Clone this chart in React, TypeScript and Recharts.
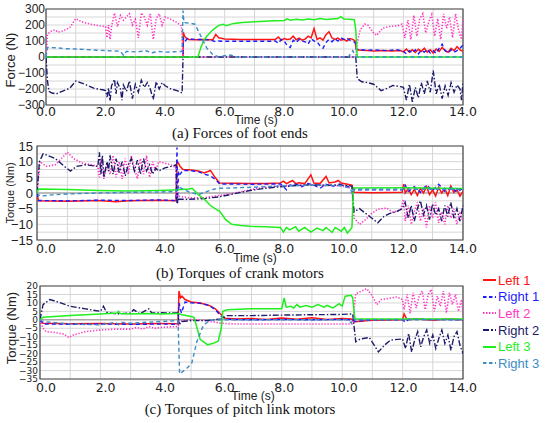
import React from "react";
import {
  LineChart, Line, XAxis, YAxis, CartesianGrid, ReferenceArea, ReferenceLine,
} from "recharts";

type Pt = [number, number];

// ---- axis ticks ----
const TIME_TICKS = [0, 1, 2, 3, 4, 5, 6, 7, 8, 9, 10, 11, 12, 13, 14];
const FORCE_TICKS = [-300, -250, -200, -150, -100, -50, 0, 50, 100, 150, 200, 250, 300];
const CRANK_TICKS = [-15, -12.5, -10, -7.5, -5, -2.5, 0, 2.5, 5, 7.5, 10, 12.5, 15];
const PITCH_TICKS = [-35, -30, -25, -20, -15, -10, -5, 0, 5, 10, 15, 20];

// ---- (a) forces of foot ends, N ----
const forceLeft1: Pt[] = [[0,0],[4.6,0],[4.61,155],[4.65,130],[4.7,120],[4.8,110],[5.0,108],[5.3,110],[5.6,108],[5.7,140],[5.8,120],[6.0,112],[6.5,110],[7.0,110],[7.5,110],[7.7,110],[7.8,125],[7.9,105],[8.0,115],[8.1,110],[8.2,112],[8.3,130],[8.4,108],[8.5,118],[8.6,105],[8.7,112],[8.8,130],[8.9,120],[9.0,178],[9.1,110],[9.2,120],[9.3,105],[9.4,140],[9.5,158],[9.6,120],[9.7,110],[9.8,118],[9.9,105],[10.0,110],[10.1,100],[10.2,115],[10.3,110],[10.38,100],[10.42,45],[10.6,42],[10.8,40],[11.0,38],[11.3,40],[11.6,38],[11.9,40],[12.0,32],[12.1,50],[12.2,30],[12.3,45],[12.4,28],[12.5,48],[12.6,35],[12.7,55],[12.8,30],[12.9,45],[13.0,25],[13.1,50],[13.2,35],[13.3,60],[13.4,40],[13.5,30],[13.6,55],[13.7,40],[13.8,65],[13.9,45],[14.0,35]];
const forceRight1: Pt[] = [[0,0],[4.6,0],[4.61,120],[4.65,95],[4.75,115],[5.0,110],[5.5,108],[5.7,95],[5.8,100],[6.0,98],[7.0,98],[7.5,98],[7.7,100],[7.8,85],[7.9,110],[8.0,100],[8.1,70],[8.2,60],[8.3,105],[8.4,90],[8.5,110],[8.6,100],[8.7,95],[8.8,80],[8.9,115],[9.0,100],[9.1,95],[9.2,70],[9.3,55],[9.4,90],[9.5,110],[9.6,95],[9.7,115],[9.8,100],[9.9,120],[10.0,110],[10.1,118],[10.2,105],[10.3,100],[10.38,90],[10.42,48],[10.6,45],[10.8,42],[11.0,45],[11.4,40],[11.8,45],[12.0,35],[12.1,20],[12.2,40],[12.3,25],[12.4,45],[12.5,20],[12.6,42],[12.7,30],[12.8,48],[12.9,25],[13.0,40],[13.1,22],[13.2,55],[13.3,80],[13.4,40],[13.5,25],[13.6,45],[13.7,30],[13.8,40],[13.9,55],[14.0,75]];
const forceLeft2: Pt[] = [[0,0],[0.05,140],[0.15,160],[0.3,170],[0.4,155],[0.6,165],[0.8,185],[1.0,240],[1.2,220],[1.5,205],[1.8,195],[2.0,190],[2.05,120],[2.1,200],[2.15,110],[2.2,190],[2.3,275],[2.4,190],[2.5,260],[2.6,230],[2.7,250],[2.8,270],[2.9,200],[3.0,235],[3.1,120],[3.2,275],[3.3,250],[3.4,200],[3.5,270],[3.6,110],[3.7,240],[3.8,270],[3.9,200],[4.0,250],[4.2,235],[4.4,215],[4.55,195],[4.6,0],[10.4,0],[10.45,90],[10.55,170],[10.7,205],[10.8,200],[11.0,150],[11.1,135],[11.3,180],[11.5,190],[11.8,195],[11.95,205],[12.05,120],[12.15,230],[12.25,110],[12.35,260],[12.45,130],[12.55,240],[12.65,270],[12.75,150],[12.85,220],[12.95,265],[13.05,130],[13.15,240],[13.25,110],[13.35,270],[13.45,180],[13.55,250],[13.65,120],[13.75,270],[13.85,170],[13.95,110],[14.0,240]];
const forceRight2: Pt[] = [[0,0],[0.05,-150],[0.1,-215],[0.2,-225],[0.35,-230],[0.6,-210],[0.8,-195],[1.0,-150],[1.3,-170],[1.6,-195],[1.9,-205],[2.0,-210],[2.05,-250],[2.1,-195],[2.15,-275],[2.2,-180],[2.3,-140],[2.35,-230],[2.4,-160],[2.5,-200],[2.55,-270],[2.6,-175],[2.7,-215],[2.8,-150],[2.9,-260],[3.0,-170],[3.1,-220],[3.2,-145],[3.3,-190],[3.4,-160],[3.5,-200],[3.6,-265],[3.7,-155],[3.8,-200],[3.9,-160],[4.0,-180],[4.2,-200],[4.4,-210],[4.57,-225],[4.6,0],[10.4,0],[10.45,-135],[10.6,-155],[10.8,-160],[11.0,-170],[11.25,-210],[11.4,-200],[11.65,-178],[11.9,-185],[12.0,-190],[12.1,-270],[12.2,-170],[12.3,-280],[12.4,-190],[12.5,-255],[12.6,-160],[12.7,-230],[12.8,-150],[12.9,-220],[13.0,-85],[13.1,-230],[13.2,-170],[13.3,-260],[13.4,-180],[13.5,-240],[13.6,-160],[13.7,-220],[13.8,-175],[13.9,-200],[13.95,-270],[14.0,-160]];
const forceLeft3: Pt[] = [[0,0],[5.1,0],[5.2,60],[5.3,105],[5.4,130],[5.6,170],[5.8,198],[5.95,205],[6.05,195],[6.3,210],[6.6,215],[7.0,220],[7.5,225],[8.0,228],[8.1,238],[8.2,230],[8.4,236],[8.6,232],[8.8,238],[9.0,233],[9.2,240],[9.4,235],[9.6,238],[9.8,240],[9.9,252],[10.0,238],[10.2,236],[10.35,233],[10.4,170],[10.45,0],[14,0]];
const forceRight3: Pt[] = [[0,0],[0.05,60],[0.3,58],[0.7,52],[1.0,50],[1.5,45],[2.0,40],[2.5,36],[2.6,10],[2.7,35],[3.0,32],[3.4,38],[3.5,25],[3.8,35],[4.0,30],[4.3,33],[4.57,35],[4.6,290],[4.63,215],[4.8,212],[5.0,205],[5.2,130],[5.4,55],[5.6,15],[5.8,0],[6.0,8],[6.2,12],[6.4,0],[10.15,0],[10.3,40],[10.4,0],[14,0]];

// ---- (b) torques of crank motors, Nm ----
const crankLeft1: Pt[] = [[0,0],[0.05,-2.5],[1.0,-2.6],[2.0,-2.4],[2.6,-2.8],[3.0,-2.5],[4.0,-2.3],[4.57,-2.5],[4.6,10],[4.65,9.5],[4.7,8.5],[4.8,7.5],[5.0,7.4],[5.3,7.0],[5.5,6.4],[5.7,7.2],[5.85,5],[6.0,3.2],[6.5,3.1],[7.0,3.0],[7.5,3.0],[8.0,3.2],[8.1,3.8],[8.2,3.0],[8.3,3.5],[8.4,4.0],[8.5,3.0],[8.6,3.3],[8.8,3.0],[9.0,5.8],[9.1,3.2],[9.3,3.0],[9.5,5.3],[9.6,3.2],[9.8,3.5],[9.9,4.0],[10.0,3.2],[10.2,2.8],[10.35,2.5],[10.42,0.2],[11,0.1],[12.0,0.2],[12.05,2.8],[12.1,0],[12.2,1.5],[12.3,-0.5],[12.4,1.2],[12.5,-0.8],[12.6,1.5],[12.7,0],[12.8,2.0],[12.9,-0.5],[13.0,1.0],[13.1,-1.0],[13.2,1.8],[13.3,0],[13.4,1.5],[13.5,-0.8],[13.6,2.2],[13.7,0.2],[13.8,1.2],[13.9,-1.0],[14.0,0.5]];
const crankRight1: Pt[] = [[0,0],[0.05,-2.4],[1.0,-2.5],[2.0,-2.3],[3.0,-2.4],[4.0,-2.2],[4.57,-2.4],[4.6,14.5],[4.62,-3],[4.65,7],[4.7,6],[4.8,7.2],[5.0,7.2],[5.3,6.8],[5.5,6.0],[5.7,5.5],[5.9,4],[6.0,2.9],[7.0,2.8],[8.0,2.9],[8.1,2.0],[8.2,1.0],[8.3,2.5],[8.5,2.8],[8.7,2.0],[8.9,3.0],[9.1,2.5],[9.3,1.5],[9.5,2.8],[9.7,2.0],[9.9,3.0],[10.1,2.2],[10.3,2.0],[10.42,1.0],[11,1.0],[12.0,1.0],[12.1,2.5],[12.2,0.5],[12.4,2.0],[12.6,0.2],[12.8,2.5],[13.0,0.8],[13.2,2.8],[13.4,0.5],[13.6,1.8],[13.8,0.3],[14.0,1.5]];
const crankLeft2: Pt[] = [[0,0],[0.1,10],[0.3,8.5],[0.6,9],[0.8,11],[1.0,13],[1.2,11],[1.5,9.5],[1.8,9],[2.0,8.5],[2.05,5],[2.1,11],[2.2,4.5],[2.3,9.5],[2.4,6],[2.5,12],[2.6,5],[2.7,10],[2.8,4.5],[2.9,11],[3.0,6],[3.1,12],[3.2,8],[3.3,4.5],[3.4,11],[3.5,6],[3.6,12],[3.7,5],[3.8,10],[3.9,7],[4.0,10],[4.2,9.5],[4.4,9],[4.57,8],[4.6,-1],[5.0,-1.5],[5.5,-1.5],[6.0,-0.8],[6.5,0],[7.0,1],[7.5,1.8],[8.0,2.3],[9.0,2.5],[10.0,2.3],[10.35,1.5],[10.42,-8],[10.6,-10],[10.8,-8.5],[11.0,-6.5],[11.2,-5.2],[11.5,-4.8],[11.7,-6.2],[11.95,-5.3],[12.05,-2],[12.1,-9],[12.2,-4],[12.3,-10],[12.4,-6],[12.5,-3],[12.6,-9],[12.7,-5],[12.8,-11],[12.9,-4],[13.0,-8],[13.1,-3],[13.2,-9.5],[13.3,-6],[13.4,-10],[13.5,-4],[13.6,-8],[13.7,-5],[13.8,-10],[13.9,-6.5],[14.0,-9]];
const crankRight2: Pt[] = [[0,0],[0.08,10],[0.2,12.5],[0.35,12],[0.6,11],[0.9,8.5],[1.1,7],[1.3,8.5],[1.6,9],[2.0,8.5],[2.05,13],[2.1,6],[2.15,12],[2.2,5],[2.3,10],[2.35,7],[2.4,12],[2.5,6],[2.6,11],[2.7,6.5],[2.8,10],[2.9,5.5],[3.0,9],[3.1,11],[3.2,7],[3.3,10.5],[3.4,6],[3.5,11],[3.6,7],[3.7,9],[3.8,6],[3.9,8],[4.0,7],[4.2,8],[4.4,8.5],[4.57,9],[4.6,-3.5],[4.65,-2],[5.0,-2],[5.5,-1.8],[6.0,-1.2],[6.5,-0.2],[7.0,0.8],[7.5,1.5],[8.0,2.0],[8.5,2.4],[9.0,2.6],[9.5,2.5],[10.0,2.5],[10.35,2.2],[10.42,-6],[10.6,-5],[10.8,-6.5],[11.0,-8],[11.2,-9.5],[11.4,-7.5],[11.6,-6.5],[11.8,-6],[12.0,-5],[12.1,-3],[12.2,-8],[12.3,-4],[12.4,-9],[12.5,-5],[12.6,-2.5],[12.7,-7],[12.8,-4],[12.9,-8.5],[13.0,-3.5],[13.1,-7],[13.2,-5],[13.3,-9],[13.4,-4],[13.5,-7.5],[13.6,-3],[13.7,-8],[13.8,-5],[13.9,-9],[14.0,-4]];
const crankLeft3: Pt[] = [[0,0],[0.05,1.3],[1.0,1.1],[2.0,0.8],[3.0,0.6],[4.0,0.8],[4.6,1.0],[5.0,1.3],[5.1,1.5],[5.3,-0.5],[5.5,-2],[5.7,-4],[5.9,-5.3],[6.0,-5.8],[6.2,-8.5],[6.4,-10],[6.7,-10.4],[7.0,-10.6],[7.5,-10.8],[8.0,-11],[8.1,-12.5],[8.2,-11],[8.3,-11.8],[8.5,-10.8],[8.6,-12.2],[8.8,-11],[9.0,-12.5],[9.2,-11.2],[9.4,-12],[9.5,-11],[9.7,-12.6],[9.8,-11],[10.0,-12.2],[10.1,-11],[10.2,-12.8],[10.35,-11],[10.4,1.6],[12,1.7],[14,1.4]];
const crankRight3: Pt[] = [[0,0],[0.1,-1],[0.5,-0.6],[1.0,-0.3],[2.0,0],[3.0,0.2],[4.0,0.3],[4.57,0.5],[4.65,2],[5.0,0.3],[5.3,-0.5],[5.6,0.5],[5.8,1.2],[6.0,1.5],[7.0,1.8],[8.0,2.2],[9.0,2.5],[10.0,2.3],[10.3,1.5],[10.36,-0.3],[10.42,1.2],[14,1.2]];

// ---- (c) torques of pitch link motors, Nm ----
const pitchLeft1: Pt[] = [[0,0],[0.1,-2],[1.0,-2.3],[2.0,-2.2],[3.0,-2.4],[4.0,-2.2],[4.57,-2.3],[4.6,17],[4.65,13],[4.7,14],[4.8,12],[5.0,10.5],[5.3,10],[5.6,8.5],[5.8,6.5],[6.0,3],[6.1,1],[6.5,0.5],[7.0,0.8],[7.5,0.2],[8.0,1],[8.5,0.3],[9.0,1.2],[9.5,0.2],[10.0,0.8],[10.3,0.5],[10.42,-1.2],[11,-0.3],[12.0,0],[12.05,3.5],[12.15,0],[12.5,0.5],[13.0,-0.3],[13.5,0.5],[14.0,0]];
const pitchRight1: Pt[] = [[0,0],[0.1,-2.5],[1.0,-2.6],[2.0,-2.5],[3.0,-2.7],[4.0,-2.5],[4.57,-2.6],[4.6,10],[4.68,4],[4.8,10.5],[5.0,10],[5.3,9.8],[5.6,8.5],[5.8,6],[6.0,2],[6.2,0.3],[7,0],[8,0.2],[9,0],[10,0.2],[10.35,0],[10.42,-1],[11,0],[12,0],[12.1,-1.5],[12.2,0.5],[13,0.2],[14,0]];
const pitchLeft2: Pt[] = [[0,0],[0.1,-5],[0.2,-7],[0.5,-7.5],[0.8,-8.5],[0.95,-10.5],[1.1,-9],[1.5,-7],[2.0,-6],[2.5,-5.5],[3.0,-5.5],[3.2,-4.5],[3.4,-5.5],[3.6,-4],[3.8,-5],[4.0,-4.5],[4.3,-4.2],[4.57,-4],[4.62,-1],[5.0,0.3],[5.5,-0.5],[6.0,-2],[6.5,-2.5],[10.35,-2.5],[10.45,15.5],[10.65,17],[10.82,18.4],[11.0,14],[11.15,9],[11.3,12],[11.5,12.5],[11.8,13.5],[12.0,12],[12.05,6],[12.15,15],[12.25,4],[12.35,16],[12.45,7],[12.55,14],[12.65,17],[12.75,6],[12.85,15],[12.95,18],[13.05,5],[13.15,14],[13.25,8],[13.35,17],[13.45,4],[13.55,16],[13.65,9],[13.75,15],[13.85,5],[13.95,12],[14.0,4]];
const pitchRight2: Pt[] = [[0,0],[0.1,9],[0.33,12],[0.6,10.5],[1.0,8],[1.5,6.5],[2.0,5],[2.1,8],[2.2,4.5],[2.5,3.5],[3.0,4],[3.1,6],[3.3,3.5],[3.6,6.5],[3.7,4],[4.0,4.2],[4.5,4],[4.57,4.5],[4.6,-3],[4.7,-1],[5.0,-0.5],[5.5,-0.5],[6.0,0.5],[6.2,2.5],[7,2.5],[8,2.8],[9,3],[10,3.2],[10.35,3.5],[10.45,-13],[10.6,-11.3],[10.9,-10.5],[11.2,-19],[11.4,-15],[11.6,-12],[12.0,-11.3],[12.1,-17],[12.2,-8],[12.3,-19],[12.4,-12],[12.5,-7],[12.6,-16],[12.7,-10],[12.8,-6],[12.9,-14],[13.0,-9],[13.1,-17],[13.2,-11],[13.3,-6],[13.4,-14],[13.5,-9],[13.6,-18],[13.7,-10],[13.8,-7],[13.9,-15],[14.0,-20]];
const pitchLeft3: Pt[] = [[0,0],[0.1,1.5],[1.0,2.5],[2.0,3.5],[2.55,4],[2.6,5],[2.65,3.8],[3.0,3.5],[3.5,3.8],[4.0,3.5],[4.57,3.8],[4.7,3],[5.0,2],[5.1,1.5],[5.2,-5],[5.3,-11.5],[5.55,-14.8],[5.8,-13.5],[5.9,-12.5],[6.0,-5],[6.05,5],[6.2,6],[7.0,6.5],[8.0,6.5],[8.08,13],[8.15,7.5],[8.3,8],[8.4,7],[8.5,9],[8.6,7.5],[8.8,8.5],[9.0,7.5],[9.2,9],[9.4,7.5],[9.5,8.5],[9.7,7],[9.9,9.5],[10.0,8],[10.1,14],[10.3,14.5],[10.35,13],[10.42,0.5],[14.0,0.5]];
const pitchRight3: Pt[] = [[0,0],[0.1,-1],[1.0,-2.5],[2.0,-3],[2.5,-1.5],[2.6,-3],[2.7,-1.5],[3.0,-2],[4.0,-1],[4.57,-0.5],[4.62,-32],[4.86,-28.7],[5.02,-25.8],[5.19,-13],[5.41,-3.2],[5.63,-0.3],[6,0],[10.2,0],[10.3,-2],[10.35,1],[10.45,0],[14,0]];

const SERIES = [
  { name: "Left 1",  color: "#ff1414", dash: undefined,   key: undefined,   width: 1.5 },
  { name: "Right 1", color: "#1c1cff", dash: "4 3",       key: "3.5 2.5",   width: 1.4 },
  { name: "Left 2",  color: "#ff38c4", dash: "1.3 1.7",   key: "1.5 1.5",   width: 1.6 },
  { name: "Right 2", color: "#1c1c6a", dash: "6 2 1.5 2", key: "6 2 2 2",   width: 1.4 },
  { name: "Left 3",  color: "#1fee1f", dash: undefined,   key: undefined,   width: 1.5 },
  { name: "Right 3", color: "#3c8cc6", dash: "4 3",       key: "3.5 2.5",   width: 1.4 },
];

const minus = (v: number) => (v < 0 ? "\u2212" + Math.abs(v) : String(v));
const toPts = (arr: Pt[]) => arr.map(([t, v]) => ({ t, v }));

const TICK_FONT = "'DejaVu Sans', sans-serif";
const LABEL_FONT = "'Liberation Sans', Arial, sans-serif";

function Panel(p: any) {
  const {
    top, height, margin, yWidth, yDomain, yTicks, yShow, yFont, yFamily, yGap,
    series, yLabel, yLabelX, yLabelY, yLabelSize, labelShift, xTop,
    timeX, timeY, zero,
  } = p;

  const xTick = (props: any) => {
    const { x, y, payload } = props;
    const t = payload.value;
    if (t % 2 !== 0) return <g />;
    return (
      <text x={x + labelShift * (1 - t / 14)} y={y + xTop} dy="0.71em" textAnchor="middle"
        fontFamily={TICK_FONT} fontSize={12.5} fill="#222">{t.toFixed(1)}</text>
    );
  };

  return (
    <div style={{ position: "absolute", left: 0, top, width: 550, height }}>
      <LineChart width={550} height={height} margin={margin}>
        <CartesianGrid stroke="#d6d6d6" strokeWidth={1} />
        <XAxis type="number" dataKey="t" domain={[0, 14]} ticks={TIME_TICKS} interval={0}
          allowDataOverflow axisLine={false} tickLine={false} tickSize={0} tickMargin={0}
          height={22} tick={xTick} />
        <YAxis type="number" domain={yDomain} ticks={yTicks} interval={0} allowDataOverflow
          width={yWidth} axisLine={false} tickLine={false} tickSize={yGap} tickMargin={1}
          tick={{ fontFamily: yFamily, fontSize: yFont, fill: "#222" }}
          tickFormatter={(v: number) => (yShow(v) ? minus(v) : "")} />
        {zero && <ReferenceLine y={0} stroke="#8c8c8c" strokeWidth={1} />}
        {series.map((arr: Pt[], i: number) => (
          <Line key={SERIES[i].name} name={SERIES[i].name} data={toPts(arr)} dataKey="v"
            type="linear" stroke={SERIES[i].color} strokeWidth={SERIES[i].width}
            strokeDasharray={SERIES[i].dash} dot={false} activeDot={false}
            isAnimationActive={false} />
        ))}
        <ReferenceArea x1={0} x2={14} y1={yDomain[0]} y2={yDomain[1]} fill="none"
          fillOpacity={0} stroke="#4a4a4a" strokeWidth={1.2} ifOverflow="visible" />
      </LineChart>
      {/* axis titles */}
      <div style={{
        position: "absolute", left: yLabelX - 50, top: yLabelY - 8, width: 100, height: 16,
        lineHeight: "16px", textAlign: "center", transform: "rotate(-90deg)",
        fontFamily: LABEL_FONT, fontSize: yLabelSize, color: "#222", whiteSpace: "nowrap",
      }}>{yLabel}</div>
      <div style={{
        position: "absolute", left: timeX - 30, top: timeY - 8, width: 60, height: 16,
        lineHeight: "16px", textAlign: "center", fontFamily: LABEL_FONT, fontSize: 12,
        color: "#222", whiteSpace: "nowrap",
      }}>Time (s)</div>
    </div>
  );
}

function LegendBox() {
  return (
    <div style={{ position: "absolute", left: 483, top: 272, fontFamily: LABEL_FONT, fontSize: 13 }}>
      {SERIES.map(s => (
        <div key={s.name} style={{ height: 16.6, display: "flex", alignItems: "center", color: s.color }}>
          <svg width={13} height={4} style={{ display: "block" }}>
            <line x1={0} y1={2} x2={13} y2={2} stroke={s.color} strokeWidth={2}
              strokeDasharray={s.key} />
          </svg>
          <span style={{ marginLeft: 2, whiteSpace: "nowrap" }}>{s.name}</span>
        </div>
      ))}
    </div>
  );
}

const captionStyle: React.CSSProperties = {
  position: "absolute", left: 0, width: 480, textAlign: "center",
  fontFamily: "'Liberation Serif', 'Times New Roman', serif", fontSize: 15,
  lineHeight: "16px", color: "#111",
};

export default function App() {
  return (
    <div style={{ position: "absolute", left: 0, top: 0, width: 550, height: 423, background: "#fff", overflow: "hidden" }}>
      <Panel top={0} height={140} margin={{ top: 9, right: 87, left: 6, bottom: 13 }} yWidth={40}
        yDomain={[-300, 300]} yTicks={FORCE_TICKS} yShow={(v: number) => v % 100 === 0}
        yFont={12} yFamily={LABEL_FONT} yGap={0}
        series={[forceLeft1, forceRight1, forceLeft2, forceRight2, forceLeft3, forceRight3]}
        yLabel="Force (N)" yLabelX={11} yLabelY={60} yLabelSize={13}
        labelShift={0} xTop={2} timeX={256} timeY={120} zero={false} />
      <div style={{ ...captionStyle, top: 125 }}>(a) Forces of foot ends</div>

      <Panel top={130} height={150} margin={{ top: 16, right: 87, left: 0, bottom: 18 }} yWidth={37}
        yDomain={[-15, 15]} yTicks={CRANK_TICKS} yShow={(v: number) => v % 5 === 0}
        yFont={13} yFamily={LABEL_FONT} yGap={3}
        series={[crankLeft1, crankRight1, crankLeft2, crankRight2, crankLeft3, crankRight3]}
        yLabel="Torque (Nm)" yLabelX={10} yLabelY={63} yLabelSize={11}
        labelShift={9} xTop={4} timeX={255} timeY={128} zero />
      <div style={{ ...captionStyle, top: 265 }}>(b) Torques of crank motors</div>

      <Panel top={270} height={153} margin={{ top: 16, right: 87, left: 0, bottom: 22 }} yWidth={40}
        yDomain={[-35, 20]} yTicks={PITCH_TICKS} yShow={() => true}
        yFont={9} yFamily={TICK_FONT} yGap={1}
        series={[pitchLeft1, pitchRight1, pitchLeft2, pitchRight2, pitchLeft3, pitchRight3]}
        yLabel="Torque (Nm)" yLabelX={12} yLabelY={58} yLabelSize={13}
        labelShift={6} xTop={4} timeX={253} timeY={126} zero />
      <div style={{ ...captionStyle, top: 401 }}>(c) Torques of pitch link motors</div>

      <LegendBox />
    </div>
  );
}
